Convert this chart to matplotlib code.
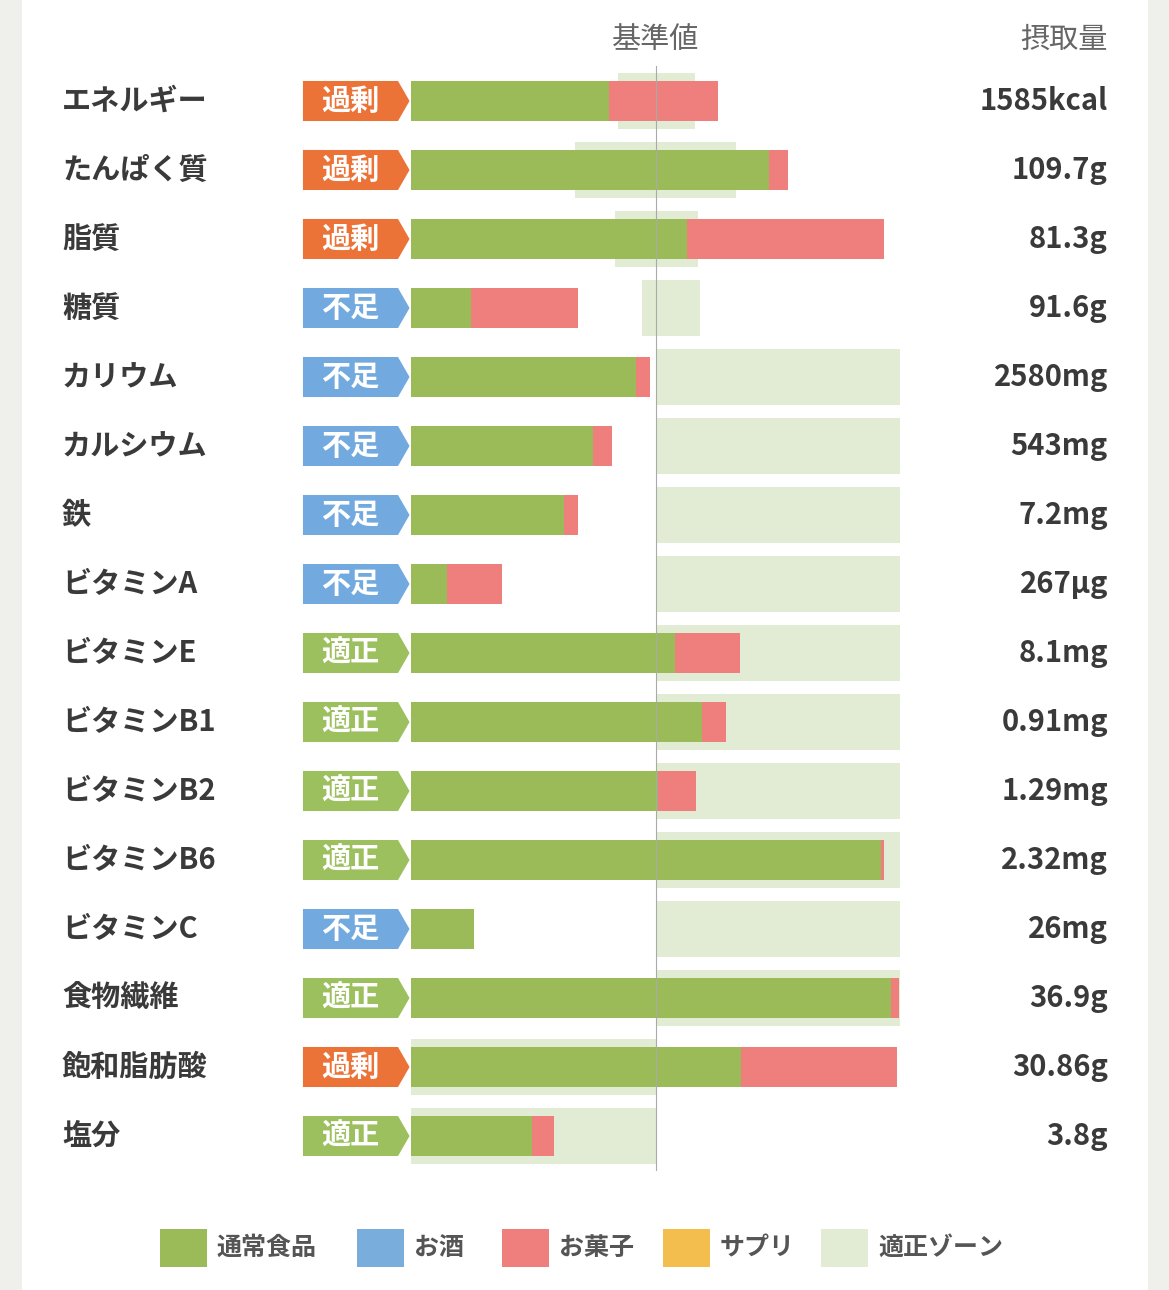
import matplotlib
matplotlib.use("Agg")
import matplotlib.pyplot as plt
from matplotlib.patches import Rectangle, Polygon
from matplotlib.transforms import blended_transform_factory

plt.rcParams['font.family'] = ['Noto Sans CJK JP', 'DejaVu Sans']

# data (percent of reference value)
nutrients = ["エネルギー", "たんぱく質", "脂質", "糖質", "カリウム", "カルシウム", "鉄",
             "ビタミンA", "ビタミンE", "ビタミンB1", "ビタミンB2", "ビタミンB6",
             "ビタミンC", "食物繊維", "飽和脂肪酸", "塩分"]
status = ["過剰", "過剰", "過剰", "不足", "不足", "不足", "不足", "不足",
          "適正", "適正", "適正", "適正", "不足", "適正", "過剰", "適正"]
food = [80.8, 146.1, 112.7, 24.5, 91.8, 74.3, 62.4, 14.7,
        107.8, 118.8, 100.8, 191.8, 25.7, 195.9, 134.7, 49.4]
snack = [44.5, 7.8, 80.4, 43.7, 5.8, 7.7, 5.8, 22.4,
         26.5, 9.8, 15.5, 1.3, 0.0, 3.3, 63.7, 9.0]
zone_lo = [84.5, 66.9, 83.3, 94.3, 100, 100, 100, 100,
           100, 100, 100, 100, 100, 100, 0, 0]
zone_hi = [115.9, 132.7, 117.1, 118.0, 199.6, 199.6, 199.6, 199.6,
           199.6, 199.6, 199.6, 199.6, 199.6, 199.6, 100, 100]
intake = ["1585kcal", "109.7g", "81.3g", "91.6g", "2580mg", "543mg", "7.2mg",
          "267µg", "8.1mg", "0.91mg", "1.29mg", "2.32mg", "26mg", "36.9g",
          "30.86g", "3.8g"]
legend_labels = ["通常食品", "お酒", "お菓子", "サプリ", "適正ゾーン"]

GREEN = "#9BBB59"
RED = "#EE7F7C"
BLUE = "#79ADDC"
YELLOW = "#F4BE4F"
ZONE = "#E2ECD4"
badge_col = {"過剰": "#EC7338", "不足": "#72AADF", "適正": "#9CC05E"}
TXT = "#3A3A3A"

W, H = 1169, 1290
fig = plt.figure(figsize=(W / 100, H / 100), dpi=100, facecolor="#EFEFEB")
fig.patches.append(Rectangle((22 / W, 0), (1148 - 22) / W, 1, transform=fig.transFigure,
                             facecolor="white", edgecolor="none", zorder=-10))

ax = fig.add_axes([411 / W, 1 - 1171 / H, 490 / W, (1171 - 66) / H])
ax.set_zorder(1)
ax.set_xlim(0, 200)
ax.set_ylim(15.507, -0.507)
ax.axis("off")
tr = blended_transform_factory(fig.transFigure, ax.transData)

n = len(nutrients)
for i in range(n):
    ax.barh(i, zone_hi[i] - zone_lo[i], left=zone_lo[i], height=0.82, color=ZONE, zorder=1)
    ax.barh(i, food[i], height=0.58, color=GREEN, zorder=2)
    if snack[i] > 0:
        ax.barh(i, snack[i], left=food[i], height=0.58, color=RED, zorder=2)
    # badge with arrow tip
    x0, x1, xt, h = -44.1, -5.3, -0.6, 0.29
    ax.add_patch(Polygon([(x0, i - h), (x1, i - h), (xt, i), (x1, i + h), (x0, i + h)],
                         closed=True, facecolor=badge_col[status[i]], edgecolor="none",
                         clip_on=False, zorder=3))
    ax.text((x0 + x1) / 2, i, status[i], color="white", fontsize=21, fontweight="bold",
            ha="center", va="center", clip_on=False, zorder=4)
    ax.text(62 / W, i, nutrients[i], transform=tr, fontsize=21, fontweight="bold",
            color=TXT, ha="left", va="center")
    ax.text(1108 / W, i, intake[i], transform=tr, fontsize=21, fontweight="bold",
            color=TXT, ha="right", va="center")

ax.axvline(100, color="#AAAAAA", lw=0.8, zorder=5)

fig.text(656 / W, 1 - 40 / H, "基準値", fontsize=21, color="#666666", ha="center", va="center")
fig.text(1108 / W, 1 - 40 / H, "摂取量", fontsize=21, color="#666666", ha="right", va="center")

# legend
leg_cols = [GREEN, BLUE, RED, YELLOW, ZONE]
leg_x = [160, 357, 502, 663, 821]
for x, c, lab in zip(leg_x, leg_cols, legend_labels):
    fig.patches.append(Rectangle((x / W, 1 - 1267 / H), 47 / W, 38 / H,
                                 transform=fig.transFigure, facecolor=c, edgecolor="none"))
    fig.text((x + 57) / W, 1 - 1248 / H, lab, fontsize=18, fontweight="bold",
             color="#555555", ha="left", va="center")

fig.savefig("out.png", dpi=100, facecolor=fig.get_facecolor())
